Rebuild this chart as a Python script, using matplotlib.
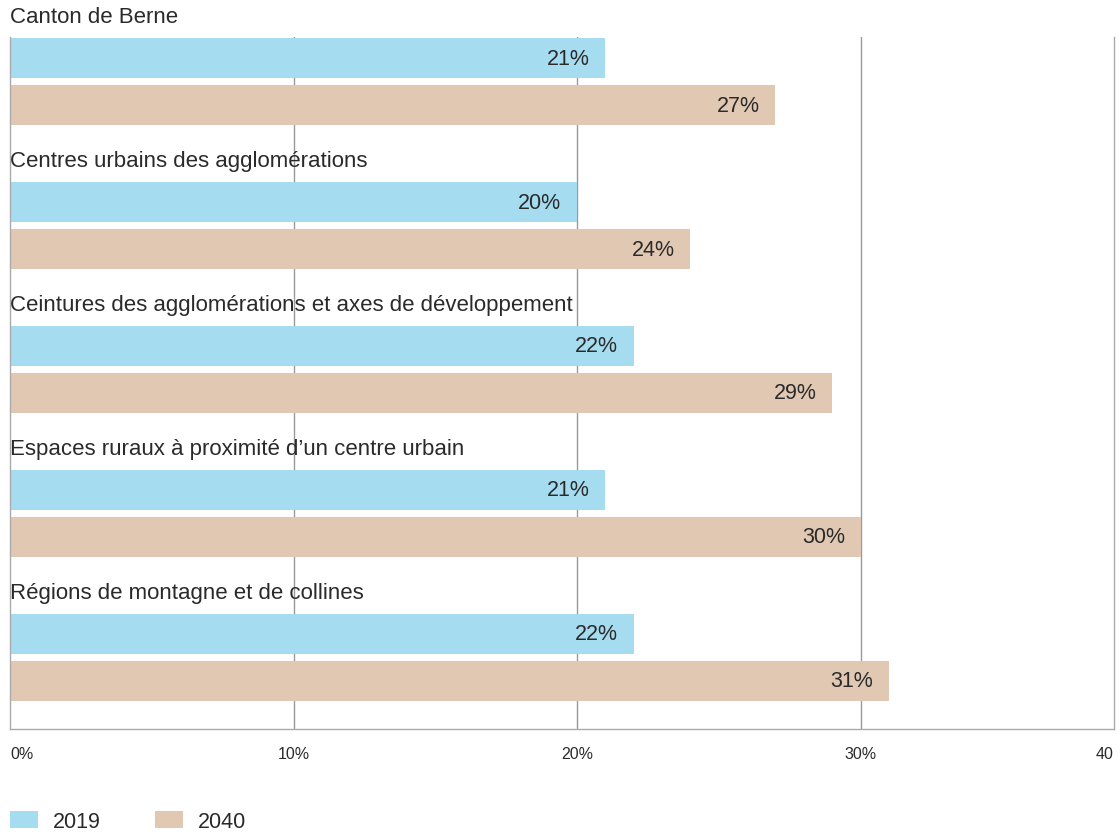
import matplotlib.pyplot as plt
from matplotlib.patches import Patch
import numpy as np

# Data
regions = ["Canton de Berne",
           "Centres urbains des agglomérations",
           "Ceintures des agglomérations et axes de développement",
           "Espaces ruraux à proximité d’un centre urbain",
           "Régions de montagne et de collines"]
val_2019 = [21, 20, 22, 21, 22]
val_2040 = [27, 24, 29, 30, 31]
series = ["2019", "2040"]
tick_vals = [0, 10, 20, 30]
tick_labels = ["0%", "10%", "20%", "30%"]

col_2019 = "#a6dcef"
col_2040 = "#e1c8b3"
txt_col = "#2a2a2a"

plt.rcParams['font.family'] = ['Liberation Sans', 'DejaVu Sans']

fig = plt.figure(figsize=(11.2, 8.37), dpi=100)
ax = fig.add_axes([10 / 1120, 1 - 730 / 837, 1104 / 1120, 692 / 837])

xmax = 38.94
y = np.arange(len(regions))
h = 40 / 144
off = 47 / 144

ax.barh(y, val_2019, height=h, color=col_2019, zorder=2)
ax.barh(y + off, val_2040, height=h, color=col_2040, zorder=2)

# grid lines behind bars
for v in [10, 20, 30]:
    ax.axvline(v, color="#999999", lw=1, zorder=1)

# value labels inside bars
for i in range(len(regions)):
    ax.text(val_2019[i] - 0.55, y[i], f"{val_2019[i]}%", ha="right", va="center",
            fontsize=15.5, color=txt_col, zorder=3)
    ax.text(val_2040[i] - 0.55, y[i] + off, f"{val_2040[i]}%", ha="right", va="center",
            fontsize=15.5, color=txt_col, zorder=3)
    ax.text(0, y[i] - 0.285, regions[i], ha="left", va="center",
            fontsize=16, color=txt_col, zorder=3)

ax.set_xlim(0, xmax)
ax.set_ylim(4.66, -0.146)
ax.set_yticks([])

ax.set_xticks(tick_vals + [xmax])
ax.set_xticklabels(tick_labels + ["40"], fontsize=11.5, color=txt_col)
ax.get_xticklabels()[0].set_ha("left")
ax.get_xticklabels()[-1].set_ha("right")
ax.tick_params(axis="x", length=0, pad=12)

ax.spines["top"].set_visible(False)
for s in ["left", "bottom", "right"]:
    ax.spines[s].set_color("#aaaaaa")
    ax.spines[s].set_linewidth(1)

handles = [Patch(facecolor=col_2019, edgecolor="none"),
           Patch(facecolor=col_2040, edgecolor="none")]
fig.legend(handles, series, loc="lower left", bbox_to_anchor=(10 / 1120, 4 / 837),
           ncol=2, frameon=False, fontsize=15.5, handlelength=1.3, handleheight=0.8,
           handletextpad=0.7, columnspacing=2.5, labelcolor=txt_col,
           borderpad=0, borderaxespad=0)

fig.savefig("out.png", dpi=100)
